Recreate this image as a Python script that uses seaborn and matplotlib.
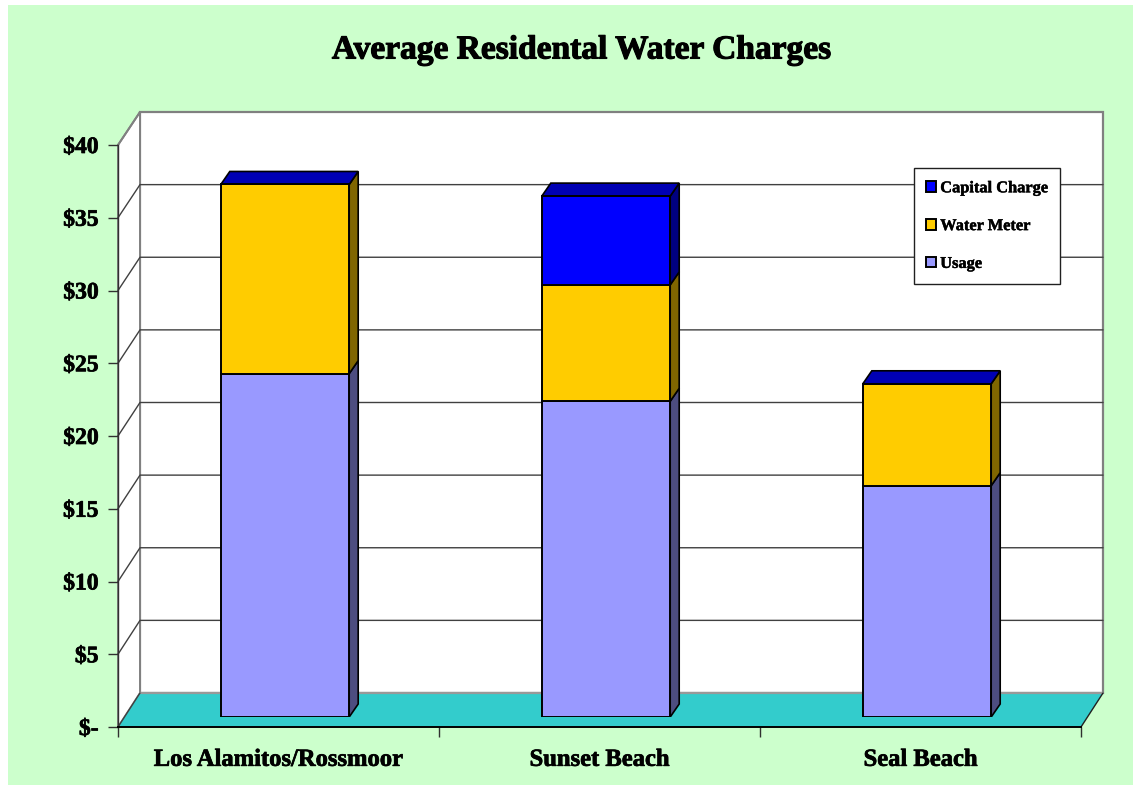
import matplotlib
matplotlib.use('Agg')
import matplotlib.pyplot as plt
import matplotlib.patheffects as pe
from matplotlib.patches import Polygon, Rectangle
from matplotlib.transforms import IdentityTransform
import seaborn as sns

# values
cities = ['Los Alamitos/Rossmoor', 'Sunset Beach', 'Seal Beach']
usage = [23.6, 21.7, 15.9]
water_meter = [13.0, 8.0, 7.0]
capital_charge = [0.0, 6.1, 0.0]
y_ticks = [0, 5, 10, 15, 20, 25, 30, 35, 40]
y_labels = ['$-', '$5', '$10', '$15', '$20', '$25', '$30', '$35', '$40']
series_names = ['Usage', 'Water Meter', 'Capital Charge']

W, H = 1141, 786
sns.set_style('white')
plt.rcParams['font.family'] = ['Liberation Serif', 'DejaVu Serif']
plt.rcParams['font.weight'] = 'bold'
plt.rcParams['text.parse_math'] = False
plt.rcParams['text.color'] = 'black'
plt.rcParams['xtick.color'] = 'black'
plt.rcParams['ytick.color'] = 'black'

GREEN = '#CCFFCC'
TEAL = '#33CCCC'
FRONT = ['#9999FF', '#FFCC00', '#0000FF']
SIDE = ['#4D4D80', '#806600', '#000080']
TOP = '#0000B4'
GRID = '#404040'
EDGE = '#808080'
HEAVY = [pe.withStroke(linewidth=0.5, foreground='black')]


def px_axes(fig, left, top, right, bottom):
    # axes from a box in picture pixels (y counted from the top)
    return fig.add_axes([left / W, 1 - bottom / H, (right - left) / W, (bottom - top) / H])


fig = plt.figure(figsize=(W / 100, H / 100), dpi=100, facecolor='white')

# background layer, walls and floor, in pixels
bg = fig.add_axes([0, 0, 1, 1])
bg.set_xlim(0, W)
bg.set_ylim(H, 0)
bg.axis('off')
bg.add_patch(Rectangle((8, 5), 1125, 780, color=GREEN, lw=0))
bg.add_patch(Polygon([(140, 112), (1103, 112), (1103, 693), (140, 693)], fc='white', ec=EDGE, lw=1.6))
bg.add_patch(Polygon([(118, 145), (140, 112), (140, 693), (118, 727)], fc='white', ec=EDGE, lw=1.4))
bg.add_patch(Polygon([(118, 727), (140, 693), (1103, 693), (1081, 727)], fc=TEAL, ec='none'))
bg.plot([140, 1103], [693, 693], color='#999999', lw=1.6)
bg.plot([1081, 1103], [727, 693], color='#202020', lw=1)
bg.plot([118, 140], [727, 693], color='#404040', lw=1)
for v in y_ticks[1:-1]:
    back_y = 693 - v * 581 / 40
    front_y = 727 - v * 582 / 40
    bg.plot([118, 140, 1103], [front_y, back_y, back_y], color=GRID, lw=1)
bg.plot([118, 140], [145, 112], color=EDGE, lw=1.4)

# front plane, carries the axis ticks and labels
front = px_axes(fig, 118, 145, 1081, 727)
front.patch.set_alpha(0)
front.set_xlim(-0.5, 2.5)
front.set_ylim(0, 40)
front.set_yticks(y_ticks)
front.set_yticklabels(y_labels, fontsize=17, fontweight='bold', path_effects=HEAVY)
front.set_xticks([-0.5, 0.5, 1.5, 2.5])
front.set_xticklabels([])
front.set_xticks([0, 1, 2], labels=cities, minor=True, fontsize=17.7, fontweight='bold', path_effects=HEAVY)
front.tick_params(axis='y', length=7, width=1, color='#303030', pad=7, left=True)
front.tick_params(axis='x', which='major', length=7, width=1, color='#303030', bottom=True)
front.tick_params(axis='x', which='minor', length=0, pad=15, bottom=False)
for name in ['top', 'right']:
    front.spines[name].set_visible(False)
front.spines['left'].set_color('#303030')
front.spines['left'].set_linewidth(1)
front.spines['bottom'].set_color('black')
front.spines['bottom'].set_linewidth(1.4)

# bars sit a little behind the front plane
ax = px_axes(fig, 124.5, 135, 1087.5, 717)
ax.patch.set_alpha(0)
bottoms = [0, 0, 0]
for name, vals, col in zip(series_names, [usage, water_meter, capital_charge], FRONT):
    sns.barplot(x=cities, y=vals, bottom=bottoms, color=col, saturation=1, width=0.4,
                edgecolor='black', linewidth=1.4, ax=ax, zorder=3, label=name)
    bottoms = [b + v for b, v in zip(bottoms, vals)]
ax.set_xlim(-0.5, 2.5)
ax.set_ylim(0, 40)
ax.axis('off')

# side and top faces for the 3D look
DX, DY = 9, 13
half = 0.2
for i in range(len(cities)):
    low = 0
    for vals, col in zip([usage, water_meter, capital_charge], SIDE):
        high = low + vals[i]
        if vals[i] > 0:
            (x1, y0), (_, y1) = ax.transData.transform([(i + half, low), (i + half, high)])
            ax.add_patch(Polygon([(x1, y0), (x1 + DX, y0 + DY), (x1 + DX, y1 + DY), (x1, y1)],
                                 fc=col, ec='black', lw=1.2, transform=IdentityTransform(), zorder=2))
        low = high
    (xa, yt), (xb, _) = ax.transData.transform([(i - half, low), (i + half, low)])
    ax.add_patch(Polygon([(xa, yt), (xa + DX, yt + DY), (xb + DX, yt + DY), (xb, yt)],
                         fc=TOP, ec='black', lw=1.2, transform=IdentityTransform(), zorder=2))

handles, labels = ax.get_legend_handles_labels()
leg = ax.legend(handles[::-1], labels[::-1], loc='upper left', bbox_to_anchor=(914 / W, 1 - 168 / H),
                bbox_transform=fig.transFigure, borderaxespad=0, fancybox=False, framealpha=1,
                edgecolor='#202020', facecolor='white', handlelength=0.6,
                handleheight=0.6, handletextpad=0.25, labelspacing=1.33, borderpad=0.75,
                prop={'family': 'Liberation Serif', 'weight': 'bold', 'size': 11.8})
leg.get_frame().set_linewidth(1)
leg.set_zorder(10)
for t in leg.get_texts():
    t.set_path_effects([pe.withStroke(linewidth=0.3, foreground='black')])

title = fig.text(582 / W, 1 - 50 / H, 'Average Residental Water Charges', ha='center', va='center',
                 fontsize=24.1, fontweight='bold')
title.set_path_effects([pe.withStroke(linewidth=0.8, foreground='black')])

fig.savefig('out.png', dpi=100, facecolor='white')
